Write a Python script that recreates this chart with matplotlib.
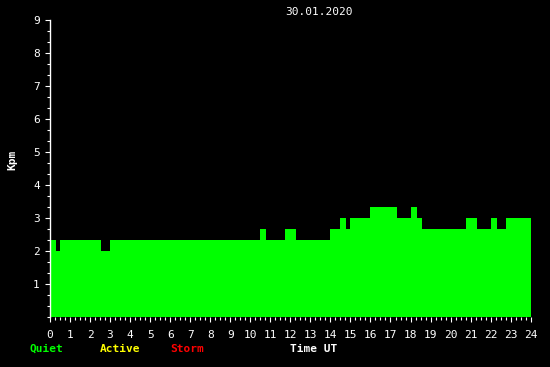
import matplotlib
matplotlib.use("Agg")
import matplotlib.pyplot as plt
import numpy as np
from matplotlib.ticker import MultipleLocator, FixedLocator

# Data: step starts (hours UT) and Kpm values
starts = [0.0, 0.3, 0.5, 2.55, 3.0, 10.5, 10.8, 11.75, 12.3, 14.0, 14.5, 14.8,
          15.0, 16.0, 17.3, 18.0, 18.3, 18.55, 20.75, 21.3, 22.0, 22.3, 22.75]
values = [2.33, 2.0, 2.33, 2.0, 2.33, 2.67, 2.33, 2.67, 2.33, 2.67, 3.0, 2.67,
          3.0, 3.33, 3.0, 3.33, 3.0, 2.67, 3.0, 2.67, 3.0, 2.67, 3.0]
end_time = 24.0
x_ticks = list(range(0, 25))
y_ticks = list(range(1, 10))
title = "30.01.2020"
legend_items = [("Quiet", "#00ff00"), ("Active", "#ffff00"), ("Storm", "#ff0000")]

W, H = 550, 367
fig = plt.figure(figsize=(W / 100, H / 100), dpi=100, facecolor="black")
ax = fig.add_axes([50 / W, 50 / H, 480.7 / W, 297 / H], facecolor="black")

edges = list(starts) + [end_time]
widths = np.diff(edges)
ax.bar(starts, values, width=widths, align="edge", color="#00ff00", linewidth=0)

ax.set_xlim(0, 24)
ax.set_ylim(0, 9)

font = "DejaVu Sans Mono"
ax.xaxis.set_major_locator(FixedLocator(x_ticks))
ax.xaxis.set_minor_locator(MultipleLocator(0.25))
ax.yaxis.set_major_locator(FixedLocator(y_ticks))
ax.yaxis.set_minor_locator(MultipleLocator(1 / 3))
ax.set_xticklabels([str(t) for t in x_ticks], fontfamily=font, fontsize=8, color="white")
ax.set_yticklabels([str(t) for t in y_ticks], fontfamily=font, fontsize=8, color="white")
ax.tick_params(axis="both", which="major", length=3.6, width=0.8, color="white", direction="out")
ax.tick_params(axis="both", which="minor", length=2.2, width=0.8, color="white", direction="out")
ax.tick_params(axis="x", which="major", pad=5.5)
ax.tick_params(axis="y", which="major", pad=3.8)

for s in ["top", "right", "bottom"]:
    ax.spines[s].set_visible(False)
ax.spines["left"].set_color("white")
ax.spines["left"].set_linewidth(1)

def ft(x, y, s, **kw):
    fig.text(x / W, 1 - y / H, s, fontfamily=font, **kw)

ft(319, 12, title, color="white", fontsize=8, ha="center", va="center")
ft(12, 160, "Kpm", color="white", fontsize=8, fontweight="bold", rotation=90,
   ha="center", va="center")
xpos = [30, 100, 170]
for (lab, col), x in zip(legend_items, xpos):
    ft(x, 349, lab, color=col, fontsize=8, fontweight="bold", ha="left", va="center")
ft(290, 349, "Time UT", color="white", fontsize=8, fontweight="bold", ha="left", va="center")

fig.savefig("out.png", dpi=100, facecolor="black")
